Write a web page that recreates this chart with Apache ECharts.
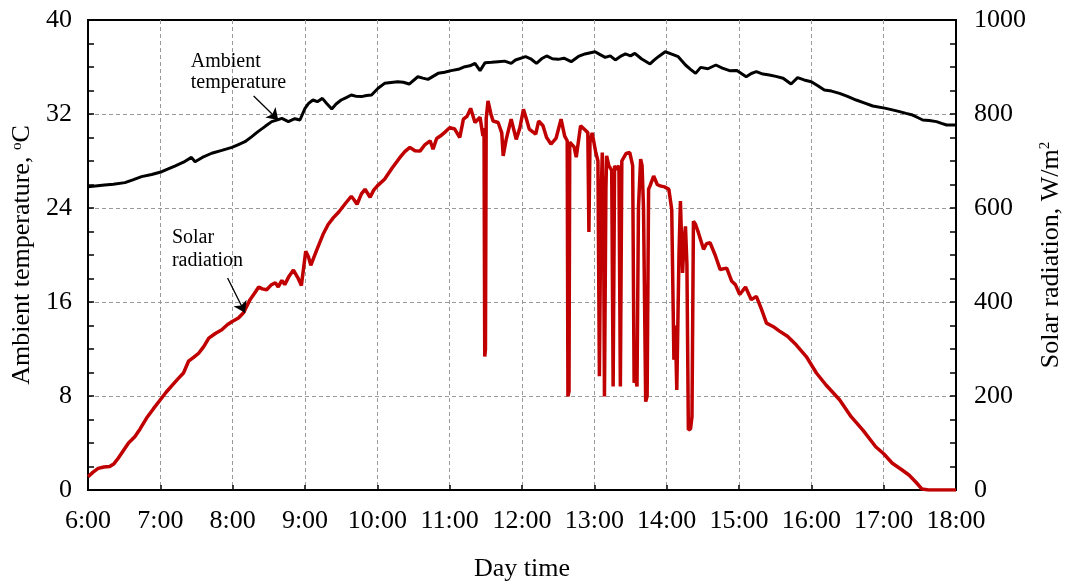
<!DOCTYPE html>
<html>
<head>
<meta charset="utf-8">
<script src="https://cdn.jsdelivr.net/npm/echarts@6/dist/echarts.min.js"></script>
<style>
  html, body { margin: 0; padding: 0; background: #fff; }
  #chart { width: 1068px; height: 584px; }
</style>
</head>
<body>
<div id="chart"></div>
<script>
// Time of day in decimal hours, paired with the measured value
const ambientTemp = [
  [6.00,25.81],[6.10,25.88],[6.23,25.96],[6.35,26.03],[6.51,26.16],[6.62,26.40],[6.74,26.67],
  [6.88,26.85],[7.02,27.09],[7.10,27.30],[7.20,27.57],[7.32,27.90],[7.43,28.31],[7.48,27.94],
  [7.58,28.30],[7.71,28.66],[7.85,28.90],[7.99,29.16],[8.08,29.40],[8.17,29.64],[8.26,30.05],
  [8.35,30.50],[8.45,30.95],[8.54,31.35],[8.62,31.50],[8.68,31.63],[8.77,31.35],[8.86,31.60],
  [8.93,31.49],[9.00,32.48],[9.05,32.90],[9.11,33.19],[9.17,33.05],[9.24,33.33],[9.30,32.90],
  [9.37,32.43],[9.43,32.85],[9.50,33.19],[9.57,33.40],[9.64,33.62],[9.71,33.50],[9.78,33.48],
  [9.85,33.58],[9.92,33.62],[10.01,34.19],[10.10,34.61],[10.19,34.68],[10.28,34.75],[10.36,34.70],
  [10.44,34.55],[10.56,35.17],[10.63,35.05],[10.70,34.95],[10.84,35.46],[10.93,35.55],[11.02,35.69],
  [11.12,35.80],[11.21,36.03],[11.28,36.10],[11.35,36.31],[11.42,35.69],[11.49,36.37],[11.58,36.40],
  [11.67,36.45],[11.76,36.50],[11.85,36.31],[11.91,36.60],[12.05,36.88],[12.12,36.70],[12.20,36.31],
  [12.27,36.70],[12.34,36.94],[12.42,36.70],[12.50,36.65],[12.58,36.75],[12.68,36.45],[12.78,36.90],
  [12.87,37.11],[13.01,37.30],[13.08,37.05],[13.15,36.82],[13.22,36.95],[13.29,36.60],[13.36,36.90],
  [13.43,37.11],[13.50,36.95],[13.56,37.16],[13.65,36.70],[13.77,36.26],[13.83,36.60],[13.89,36.90],
  [13.98,37.30],[14.07,37.10],[14.16,36.88],[14.26,36.17],[14.33,35.80],[14.40,35.46],[14.47,35.97],
  [14.57,35.85],[14.68,36.17],[14.77,35.90],[14.87,35.69],[14.97,35.70],[15.10,35.17],[15.17,35.45],
  [15.24,35.60],[15.33,35.40],[15.42,35.32],[15.51,35.20],[15.61,35.04],[15.72,34.55],[15.81,35.09],
  [15.90,34.90],[16.00,34.75],[16.09,34.40],[16.18,34.04],[16.28,33.95],[16.39,33.76],[16.50,33.50],
  [16.62,33.19],[16.73,32.95],[16.85,32.68],[17.03,32.48],[17.12,32.35],[17.22,32.20],[17.31,32.05],
  [17.40,31.91],[17.47,31.70],[17.54,31.49],[17.63,31.45],[17.73,31.35],[17.80,31.20],[17.87,31.06],
  [18.00,31.06]
];

const solarRadiation = [
  [6.00,28],[6.07,38],[6.14,46],[6.22,49],[6.30,50],[6.36,56],[6.42,68],[6.49,84],[6.56,100],
  [6.65,114],[6.72,130],[6.81,153],[6.90,172],[7.00,192],[7.08,208],[7.16,222],[7.24,236],[7.32,249],
  [7.39,274],[7.46,282],[7.53,291],[7.60,305],[7.67,323],[7.76,333],[7.85,341],[7.93,352],[8.00,359],
  [8.08,366],[8.15,377],[8.24,405],[8.30,418],[8.36,432],[8.41,428],[8.47,426],[8.53,436],[8.59,441],
  [8.63,432],[8.68,446],[8.72,437],[8.78,455],[8.84,468],[8.90,452],[8.95,435],[9.01,508],[9.05,495],
  [9.08,478],[9.16,510],[9.25,544],[9.32,565],[9.39,579],[9.47,592],[9.55,608],[9.64,625],[9.68,617],
  [9.72,608],[9.78,630],[9.83,640],[9.90,623],[9.95,638],[10.00,647],[10.10,661],[10.20,684],
  [10.31,707],[10.38,720],[10.45,729],[10.52,722],[10.59,721],[10.66,735],[10.73,743],[10.77,725],
  [10.82,748],[10.87,753],[10.94,762],[11.00,771],[11.07,768],[11.14,750],[11.19,789],[11.24,795],
  [11.29,812],[11.35,782],[11.42,793],[11.46,753],[11.475,770],[11.485,284],[11.495,300],[11.505,790],
  [11.53,828],[11.57,800],[11.60,785],[11.67,782],[11.72,760],[11.74,711],[11.78,745],[11.85,789],
  [11.92,746],[11.97,770],[12.02,810],[12.06,790],[12.10,768],[12.19,757],[12.23,785],[12.29,775],
  [12.34,750],[12.40,736],[12.47,748],[12.54,789],[12.59,753],[12.625,743],[12.635,199],[12.65,210],
  [12.66,740],[12.72,730],[12.75,708],[12.81,775],[12.88,765],[12.91,760],[12.925,549],[12.94,740],
  [12.97,760],[13.02,718],[13.05,700],[13.07,242],[13.09,600],[13.11,718],[13.13,500],[13.14,199],
  [13.16,640],[13.17,711],[13.20,690],[13.24,680],[13.26,220],[13.28,690],[13.30,682],[13.34,690],
  [13.36,220],[13.38,700],[13.39,704],[13.44,716],[13.49,718],[13.53,690],[13.55,228],[13.57,240],
  [13.59,220],[13.61,600],[13.64,704],[13.66,690],[13.68,600],[13.71,188],[13.73,200],[13.75,640],
  [13.77,647],[13.82,668],[13.87,650],[13.91,647],[13.97,645],[14.03,640],[14.07,597],[14.10,277],
  [14.12,350],[14.14,213],[14.17,500],[14.19,615],[14.22,462],[14.24,530],[14.26,561],[14.28,480],
  [14.30,128],[14.33,130],[14.35,156],[14.37,572],[14.40,565],[14.44,547],[14.51,512],[14.55,524],
  [14.60,526],[14.67,500],[14.74,469],[14.83,472],[14.90,444],[14.95,437],[15.01,416],[15.09,432],
  [15.17,405],[15.24,412],[15.31,385],[15.38,355],[15.47,348],[15.56,338],[15.67,327],[15.79,309],
  [15.93,284],[16.07,249],[16.20,224],[16.39,192],[16.55,156],[16.71,128],[16.89,92],[17.00,77],
  [17.12,57],[17.25,43],[17.35,32],[17.45,16],[17.53,2],[17.62,0],[17.80,0],[18.00,0]
];

// Axis ranges and steps
const hourStart = 6, hourEnd = 18;
const tempTicks = { min: 0, max: 40, step: 8 };
const solarTicks = { min: 0, max: 1000, step: 200 };

const FONT = "'Liberation Serif', 'Times New Roman', serif";
const GRID_LINE = { show: true, showMinLine: false, showMaxLine: false, lineStyle: { color: '#9a9a9a', type: [4, 3], width: 1 } };
const SUP = { fontFamily: FONT, fontSize: 15, color: '#000', verticalAlign: 'top', padding: [0, 0, 8, 0] };

const chart = echarts.init(document.getElementById('chart'), null, { renderer: 'canvas' });

chart.setOption({
  animation: false,
  backgroundColor: '#fff',
  grid: {
    left: 88, right: 112, top: 20, bottom: 94,
    show: true, borderColor: '#000', borderWidth: 2,
    containLabel: false, outerBoundsMode: 'none'
  },
  xAxis: {
    type: 'value', min: hourStart, max: hourEnd, interval: 1,
    name: 'Day time', nameLocation: 'middle', nameGap: 66,
    nameTextStyle: { fontFamily: FONT, fontSize: 26, color: '#000' },
    axisLine: { lineStyle: { color: '#000', width: 2 } },
    axisTick: { inside: true, length: 5, lineStyle: { color: '#000', width: 1.5 } },
    axisLabel: { fontFamily: FONT, fontSize: 26, color: '#000', margin: 18, formatter: v => v + ':00' },
    splitLine: GRID_LINE
  },
  yAxis: [
    {
      type: 'value', min: tempTicks.min, max: tempTicks.max, interval: tempTicks.step,
      name: 'Ambient temperature, {sup|o}C', nameLocation: 'middle', nameRotate: 90, nameGap: 52,
      nameTextStyle: { fontFamily: FONT, fontSize: 26, color: '#000', rich: { sup: SUP } },
      axisLine: { show: true, lineStyle: { color: '#000', width: 2 } },
      axisTick: { show: true, inside: true, length: 6, lineStyle: { color: '#000', width: 1.5 } },
      minorTick: { show: true, splitNumber: 4, length: 6, lineStyle: { color: '#000', width: 1.5 } },
      axisLabel: { fontFamily: FONT, fontSize: 26, color: '#000', margin: 16 },
      splitLine: GRID_LINE
    },
    {
      type: 'value', min: solarTicks.min, max: solarTicks.max, interval: solarTicks.step, position: 'right',
      name: 'Solar radiation, W/m{sup|2}', nameLocation: 'middle', nameRotate: 90, nameGap: 82,
      nameTextStyle: { fontFamily: FONT, fontSize: 26, color: '#000', rich: { sup: SUP } },
      axisLine: { show: true, lineStyle: { color: '#000', width: 2 } },
      axisTick: { show: true, inside: true, length: 6, lineStyle: { color: '#000', width: 1.5 } },
      minorTick: { show: true, splitNumber: 4, length: 6, lineStyle: { color: '#000', width: 1.5 } },
      axisLabel: { fontFamily: FONT, fontSize: 26, color: '#000', margin: 18, formatter: v => String(v) },
      splitLine: { show: false }
    }
  ],
  series: [
    {
      name: 'Solar radiation', type: 'line', yAxisIndex: 1, data: solarRadiation,
      showSymbol: false, symbol: 'none', smooth: false,
      lineStyle: { color: '#c00000', width: 3.5 }, z: 3,
      markLine: {
        silent: true, symbol: ['none', 'arrow'], symbolSize: 11,
        label: { show: false },
        lineStyle: { color: '#000', width: 1.3, type: 'solid' },
        data: [[{ coord: [7.93, 451] }, { coord: [8.17, 377] }]]
      },
      markPoint: {
        silent: true, symbol: 'circle', symbolSize: 0,
        label: { show: true, position: 'right', distance: 0, fontFamily: FONT, fontSize: 20, lineHeight: 23, color: '#000', formatter: 'Solar\nradiation' },
        data: [{ coord: [7.16, 513] }]
      }
    },
    {
      name: 'Ambient temperature', type: 'line', yAxisIndex: 0, data: ambientTemp,
      showSymbol: false, symbol: 'none', smooth: false,
      lineStyle: { color: '#000', width: 3 }, z: 4,
      markLine: {
        silent: true, symbol: ['none', 'arrow'], symbolSize: 11,
        label: { show: false },
        lineStyle: { color: '#000', width: 1.3, type: 'solid' },
        data: [[{ coord: [8.29, 33.53] }, { coord: [8.63, 31.49] }]]
      },
      markPoint: {
        silent: true, symbol: 'circle', symbolSize: 0,
        label: { show: true, position: 'right', distance: 0, fontFamily: FONT, fontSize: 20, lineHeight: 21, color: '#000', formatter: 'Ambient\ntemperature' },
        data: [{ coord: [7.42, 35.53] }]
      }
    }
  ]
});
</script>
</body>
</html>
